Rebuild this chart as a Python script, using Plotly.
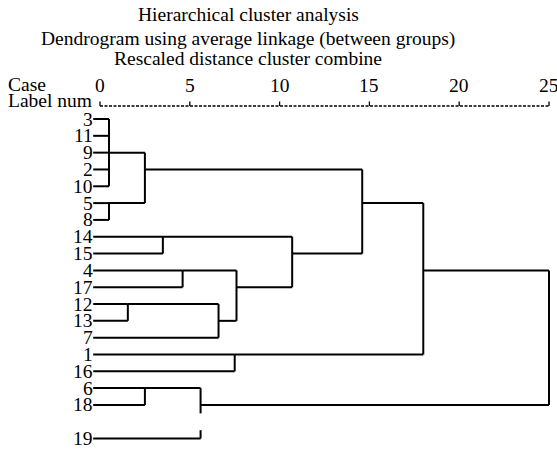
import math
import plotly.graph_objects as go

# ---------------- data ----------------
title_lines = ["Hierarchical cluster analysis",
               "Dendrogram using average linkage (between groups)",
               "Rescaled distance cluster combine"]
tick_values = [0, 5, 10, 15, 20, 25]
tick_labels = ["0", "5", "10", "15", "20", "25"]

leaf_labels = ["3", "11", "9", "2", "10", "5", "8", "14", "15", "4", "17",
               "12", "13", "7", "1", "16", "6", "18", "19"]
leaf_rows = [0, 1, 2, 3, 4, 5, 6, 7, 8, 9, 10, 11, 12, 13, 14, 15, 16, 17, 19]

# merges in order: (children, rescaled distance); "M<i>" refers to the i-th merge
merge_children = [
    ["3", "11", "9", "2", "10"],
    ["5", "8"],
    ["M0", "M1"],
    ["14", "15"],
    ["4", "17"],
    ["12", "13"],
    ["M5", "7"],
    ["M4", "M6"],
    ["M3", "M7"],
    ["M2", "M8"],
    ["1", "16"],
    ["M9", "M10"],
    ["6", "18"],
    ["M12", "19"],
    ["M11", "M13"],
]
merge_heights = [0.5, 0.5, 2.5, 3.5, 4.6, 1.55, 6.6, 7.6, 10.7, 14.6,
                 7.5, 18.0, 2.5, 5.6, 25.0]

# ---------------- layout constants ----------------
W, H = 557, 449
FONT = "Liberation Serif"
FS = 19.5
X0_PX, X_SCALE = 100.0, 17.96        # pixel of distance 0, pixels per unit
Y0_PX, Y_SCALE = 119.0, 16.82        # pixel of row 0, pixels per row
LEAF_START = -0.38

x_range = [(0 - X0_PX) / X_SCALE, (W - X0_PX) / X_SCALE]
y_range = [(H - Y0_PX) / Y_SCALE, (0 - Y0_PX) / Y_SCALE]


def py_to_row(py):
    return (py - Y0_PX) / Y_SCALE


# ---------------- build dendrogram geometry ----------------
node_row = {lab: r for lab, r in zip(leaf_labels, leaf_rows)}
node_h = {lab: LEAF_START for lab in leaf_labels}
occupied = set(leaf_rows)

xs, ys = [], []
for i, (children, h) in enumerate(zip(merge_children, merge_heights)):
    rows = [node_row[c] for c in children]
    for c in children:
        xs += [node_h[c], h, None]
        ys += [node_row[c], node_row[c], None]
    lo, hi = min(rows), max(rows)
    start = lo
    for r in range(lo + 1, hi):
        if r not in occupied:
            xs += [h, h, None]
            ys += [start, r - 0.5, None]
            start = r + 0.5
    xs += [h, h, None]
    ys += [start, hi, None]
    name = f"M{i}"
    node_row[name] = math.floor((lo + hi) / 2)
    node_h[name] = h

fig = go.Figure()
fig.add_trace(go.Scatter(x=xs, y=ys, mode="lines",
                         line=dict(color="black", width=2),
                         hoverinfo="skip", showlegend=False))

# dashed scale line and ticks
axis_row = py_to_row(106)
tick_top = py_to_row(101.5)
fig.add_trace(go.Scatter(x=[tick_values[0], tick_values[-1]], y=[axis_row, axis_row],
                         mode="lines", line=dict(color="black", width=1.3, dash="3px,1.5px"),
                         hoverinfo="skip", showlegend=False))
tx, ty = [], []
for v in tick_values:
    tx += [v, v, None]
    ty += [axis_row, tick_top, None]
fig.add_trace(go.Scatter(x=tx, y=ty, mode="lines", line=dict(color="black", width=1.3),
                         hoverinfo="skip", showlegend=False))

annotations = []
for text, cy in zip(title_lines, [14, 39, 58]):
    annotations.append(dict(text=text, x=248 / W, y=1 - cy / H, xref="paper", yref="paper",
                            xanchor="center", yanchor="middle", showarrow=False,
                            font=dict(family=FONT, size=FS, color="black")))
for v, lab in zip(tick_values, tick_labels):
    annotations.append(dict(text=lab, x=v, y=py_to_row(85), xref="x", yref="y",
                            xanchor="center", yanchor="middle", showarrow=False,
                            font=dict(family=FONT, size=FS, color="black")))
annotations.append(dict(text="Case", x=6 / W, y=1 - 85 / H, xref="paper", yref="paper",
                        xanchor="left", yanchor="middle", showarrow=False,
                        font=dict(family=FONT, size=FS, color="black")))
annotations.append(dict(text="Label num", x=6 / W, y=1 - 100 / H, xref="paper", yref="paper",
                        xanchor="left", yanchor="middle", showarrow=False,
                        font=dict(family=FONT, size=FS, color="black")))
for lab, r in zip(leaf_labels, leaf_rows):
    annotations.append(dict(text=lab, x=LEAF_START, y=r, xref="x", yref="y",
                            xanchor="right", yanchor="middle", showarrow=False,
                            borderpad=0, xshift=1,
                            font=dict(family=FONT, size=FS, color="black")))

fig.update_layout(
    width=W, height=H,
    margin=dict(l=0, r=0, t=0, b=0),
    paper_bgcolor="white", plot_bgcolor="white",
    xaxis=dict(range=x_range, visible=False, fixedrange=True),
    yaxis=dict(range=y_range, visible=False, fixedrange=True),
    annotations=annotations,
    showlegend=False,
)

fig.write_html("out.html", config={"displayModeBar": False},
               post_script="document.body.style.margin='0px';")
